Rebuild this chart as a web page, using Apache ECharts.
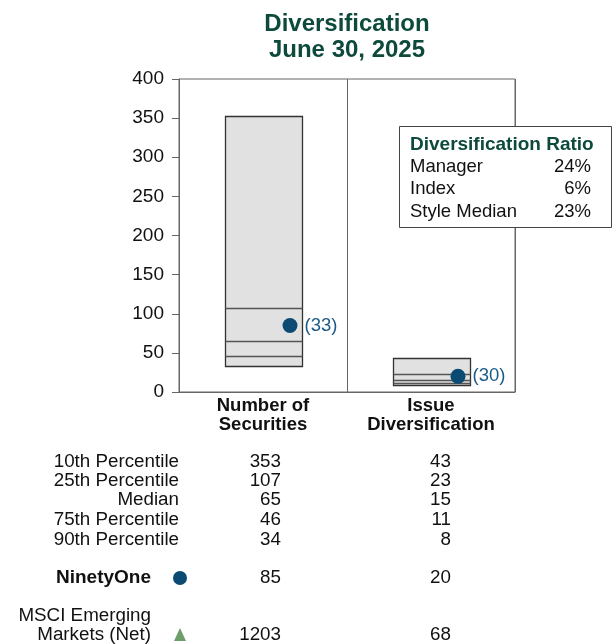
<!DOCTYPE html>
<html><head><meta charset="utf-8">
<script src="https://cdn.jsdelivr.net/npm/echarts@6/dist/echarts.min.js"></script>
<style>html,body{margin:0;padding:0;background:#fff}#c{width:616px;height:644px}</style>
</head><body><div id="c"></div>
<script>
const categories = ['Number of\nSecurities', 'Issue\nDiversification'];
const p10 = [353, 43];
const p25 = [107, 23];
const median = [65, 15];
const p75 = [46, 11];
const p90 = [34, 8];
const managerName = 'NinetyOne';
const managerVals = [85, 20];
const managerRanks = [33, 30];
const indexName = 'MSCI Emerging\nMarkets (Net)';
const indexVals = [1203, 68];
const rowLabels = ['10th Percentile', '25th Percentile', 'Median', '75th Percentile', '90th Percentile'];
const ratioTitle = 'Diversification Ratio';
const ratioLabels = ['Manager', 'Index', 'Style Median'];
const ratioValues = ['24%', '6%', '23%'];
const yTicks = [0, 400, 50];

const FONT = "'Liberation Sans', Arial, sans-serif";
const GREEN = '#0d4a3b';
const BLUE = '#0b4a72';
const TXT = '18.8px ' + FONT;

const chart = echarts.init(document.getElementById('c'));

const boxData = categories.map((c, i) => [i, p10[i], p25[i], median[i], p75[i], p90[i]]);

// table graphics
const graphics = [];
const colX = [281, 451];
const rowY = [462, 481, 500, 520, 540];
const pctCols = [p10, p25, median, p75, p90];
rowLabels.forEach((lab, r) => {
  graphics.push({type: 'text', x: 179, y: rowY[r], style: {text: lab, font: TXT, fill: '#111', align: 'right', verticalAlign: 'middle'}});
  colX.forEach((cx, ci) => {
    graphics.push({type: 'text', x: cx, y: rowY[r], style: {text: String(pctCols[r][ci]), font: TXT, fill: '#111', align: 'right', verticalAlign: 'middle'}});
  });
});
graphics.push({type: 'text', x: 151, y: 578, style: {text: managerName, font: 'bold 19px ' + FONT, fill: '#111', align: 'right', verticalAlign: 'middle'}});
graphics.push({type: 'circle', shape: {cx: 180, cy: 578, r: 7}, style: {fill: BLUE}});
colX.forEach((cx, ci) => {
  graphics.push({type: 'text', x: cx, y: 578, style: {text: String(managerVals[ci]), font: TXT, fill: '#111', align: 'right', verticalAlign: 'middle'}});
});
graphics.push({type: 'text', x: 151, y: 625.5, style: {text: indexName, font: TXT, fill: '#111', align: 'right', verticalAlign: 'middle', lineHeight: 19}});
graphics.push({type: 'polygon', shape: {points: [[180, 628], [186, 641], [174, 641]]}, style: {fill: '#6c9f6c'}});
colX.forEach((cx, ci) => {
  graphics.push({type: 'text', x: cx, y: 635, style: {text: String(indexVals[ci]), font: TXT, fill: '#111', align: 'right', verticalAlign: 'middle'}});
});
// ratio box
graphics.push({type: 'rect', z: 100, shape: {x: 399.5, y: 126.5, width: 212, height: 101}, style: {fill: '#fff', stroke: '#444', lineWidth: 1}});
graphics.push({type: 'text', z: 101, x: 410, y: 145, style: {text: ratioTitle, font: 'bold 19px ' + FONT, fill: GREEN, verticalAlign: 'middle'}});
const rY = [167, 189, 212];
ratioLabels.forEach((l, i) => {
  graphics.push({type: 'text', z: 101, x: 410, y: rY[i], style: {text: l, font: '18.5px ' + FONT, fill: '#111', verticalAlign: 'middle'}});
  graphics.push({type: 'text', z: 101, x: 591, y: rY[i], style: {text: ratioValues[i], font: '18.5px ' + FONT, fill: '#111', align: 'right', verticalAlign: 'middle'}});
});
// chart title
graphics.push({type: 'text', x: 347, y: 24.5, style: {text: 'Diversification', font: 'bold 24px ' + FONT, fill: GREEN, align: 'center', verticalAlign: 'middle'}});
graphics.push({type: 'text', x: 347, y: 50.5, style: {text: 'June 30, 2025', font: 'bold 24px ' + FONT, fill: GREEN, align: 'center', verticalAlign: 'middle'}});

chart.setOption({
  animation: false,
  grid: {left: 179, top: 79, width: 336, height: 313, show: true, borderColor: '#666', borderWidth: 1, backgroundColor: 'transparent'},
  xAxis: {
    type: 'category', data: categories,
    axisLine: {lineStyle: {color: '#666'}},
    axisTick: {show: false},
    splitLine: {show: true, lineStyle: {color: '#666', width: 1}},
    axisLabel: {fontFamily: FONT, fontSize: 18.5, fontWeight: 'bold', color: '#111', lineHeight: 19, margin: 4}
  },
  yAxis: {
    type: 'value', min: yTicks[0], max: yTicks[1], interval: yTicks[2],
    axisLine: {show: true, lineStyle: {color: '#666'}},
    axisTick: {show: true, length: 7, lineStyle: {color: '#666'}},
    splitLine: {show: false},
    axisLabel: {fontFamily: FONT, fontSize: 19, color: '#111', margin: 15}
  },
  series: [
    {
      type: 'custom',
      data: boxData,
      encode: {x: 0, y: [1, 2, 3, 4, 5]},
      renderItem: function (params, api) {
        const idx = api.value(0);
        const w = api.size([1, 0])[0] * 0.456;
        const top = api.coord([idx, api.value(1)]);
        const bot = api.coord([idx, api.value(5)]);
        const x0 = top[0] - w / 2;
        const children = [{
          type: 'rect',
          shape: {x: Math.round(x0) + 0.5, y: Math.round(top[1]) + 0.5, width: Math.round(w), height: Math.round(bot[1] - top[1])},
          style: {fill: '#e1e1e1', stroke: '#333', lineWidth: 1.3}
        }];
        [2, 3, 4].forEach(k => {
          const p = api.coord([idx, api.value(k)]);
          const yy = Math.round(p[1]) + 0.5;
          children.push({type: 'line', shape: {x1: Math.round(x0) + 0.5, y1: yy, x2: Math.round(x0) + 0.5 + Math.round(w), y2: yy}, style: {stroke: '#555', lineWidth: 1.3}});
        });
        return {type: 'group', children: children};
      }
    },
    {
      type: 'scatter',
      data: managerVals.map((v, i) => [i, v]),
      symbol: 'circle', symbolSize: 15, symbolOffset: [27, 0],
      itemStyle: {color: BLUE, opacity: 1},
      label: {
        show: true, position: 'right', distance: 7,
        formatter: p => '(' + managerRanks[p.dataIndex] + ')',
        fontFamily: FONT, fontSize: 18.5, color: '#1b5b88'
      },
      z: 5
    }
  ],
  graphic: graphics
});
</script></body></html>
